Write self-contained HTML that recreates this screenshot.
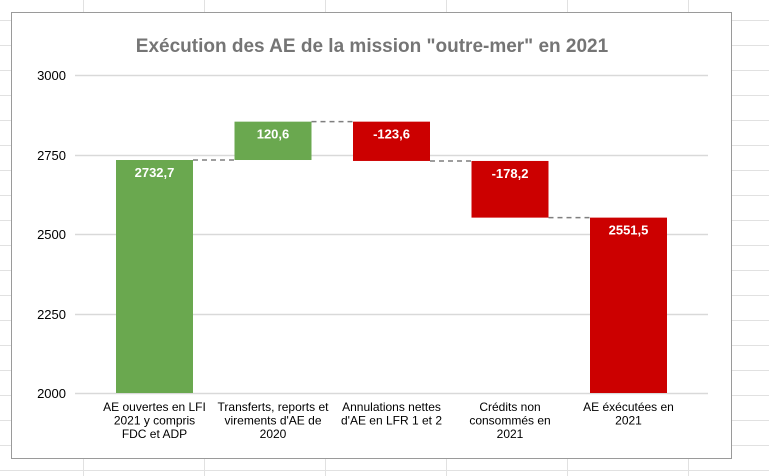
<!DOCTYPE html>
<html><head><meta charset="utf-8"><style>
body{margin:0;width:769px;height:476px;overflow:hidden;background:#fff;font-family:"Liberation Sans",Arial,sans-serif}
</style></head><body>
<svg width="769" height="476" style="position:absolute;left:0;top:0">
<g id="sheet"></g>
<rect x="11.5" y="12.5" width="720" height="446" fill="#fff" stroke="#9a9a9a"/>
<text x="372" y="52" text-anchor="middle" font-size="19" font-weight="bold" fill="#757575">Exécution des AE de la mission "outre-mer" en 2021</text>
<g id="grid"></g><g id="marks"></g>
</svg>
<script>
const categories=[["AE ouvertes en LFI","2021 y compris","FDC et ADP"],["Transferts, reports et","virements d'AE de","2020"],["Annulations nettes","d'AE en LFR 1 et 2"],["Crédits non","consommés en","2021"],["AE éxécutées en","2021"]];
const values=[2732.7,120.6,-123.6,-178.2,2551.5];
const isTotal=[true,false,false,false,true];
const labels=["2732,7","120,6","-123,6","-178,2","2551,5"];
const ticks=[2000,2250,2500,2750,3000];
const NS="http://www.w3.org/2000/svg";
function mk(t,a,p){const e=document.createElementNS(NS,t);for(const k in a)e.setAttribute(k,a[k]);p.appendChild(e);return e;}
const sheet=document.getElementById('sheet');
for(let y=20;y<476;y+=25){const l=mk('line',{x1:0,x2:769,y1:y+.5,y2:y+.5,stroke:'#e1e1e1'},sheet);

}
for(let x=83;x<769;x+=121){const l=mk('line',{x1:x+.5,x2:x+.5,y1:0,y2:476,stroke:'#e1e1e1'},sheet);

}
const G0=75,G1=708,X0=95.25,X1=687.75,yMin=2000,yMax=3000,Y0=393,Y1=75;
const ys=v=>Y0-(v-yMin)/(yMax-yMin)*(Y0-Y1);
const bw=(X1-X0)/categories.length;
const xc=i=>X0+bw*(i+0.5);
const grid=document.getElementById('grid'),marks=document.getElementById('marks');
ticks.forEach(t=>{const y=Math.round(ys(t));
const l=mk('line',{x1:G0,x2:G1,y1:y+.5,y2:y+.5,stroke:'#d9d9d9','stroke-width':1.5},grid);


const tx=mk('text',{x:66,y:y+5,'text-anchor':'end','font-size':13,fill:'#000'},grid);tx.textContent=t;

});
let run=0;const w=77;
values.forEach((v,i)=>{let a,b;
if(isTotal[i]){a=yMin;b=v;run=v;}else{a=run;b=run+v;run=b;}
const top=ys(Math.max(a,b)),bot=ys(Math.min(a,b));
const r=mk('rect',{x:xc(i)-w/2,y:top,width:w,height:bot-top,fill:(i==0||v>0&&!isTotal[i])?'#6aa84f':'#cc0000'},marks);


const t=mk('text',{x:xc(i),y:top+17,'text-anchor':'middle','font-size':13,'font-weight':'bold',fill:'#fff'},marks);t.textContent=labels[i];


if(i<values.length-1){const yy=ys(run);
const c=mk('line',{x1:xc(i)+w/2,x2:xc(i+1)-w/2,y1:yy,y2:yy,stroke:'#7f7f7f','stroke-width':1.5,'stroke-dasharray':'5,4'},marks);

}
categories[i].forEach((s,j)=>{const ct=mk('text',{x:xc(i),y:411+j*13.5,'text-anchor':'middle','font-size':12,fill:'#000'},marks);ct.textContent=s;

});
});
</script>
</body></html>
